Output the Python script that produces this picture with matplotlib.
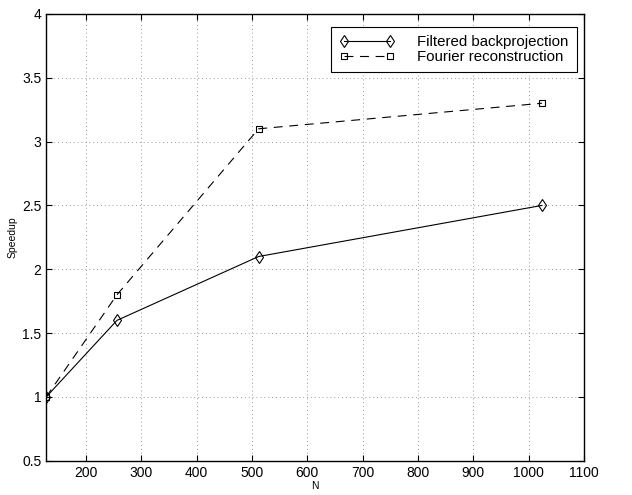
import matplotlib
matplotlib.use("Agg")
import matplotlib.pyplot as plt

plt.rcParams['font.family'] = ['Liberation Sans', 'DejaVu Sans']

N = [128, 256, 512, 1024]
fbp = [1.0, 1.6, 2.1, 2.5]
fourier = [1.0, 1.8, 3.1, 3.3]
xticks = [200, 300, 400, 500, 600, 700, 800, 900, 1000, 1100]
yticks = [0.5, 1, 1.5, 2, 2.5, 3, 3.5, 4]

fig = plt.figure(figsize=(6.32, 4.95), dpi=100)
ax = fig.add_axes([0.073, 0.069, 0.851, 0.903])

ax.plot(N, fbp, 'k-', marker='d', markersize=6.5, markerfacecolor='none',
        markeredgecolor='black', markeredgewidth=0.8, linewidth=0.8,
        label='Filtered backprojection')
ax.plot(N, fourier, 'k--', marker='s', markersize=5, markerfacecolor='none',
        markeredgecolor='black', markeredgewidth=0.8, linewidth=0.8, dashes=(8, 6),
        label='Fourier reconstruction')

ax.set_xlim(128, 1100)
ax.set_ylim(0.5, 4)
ax.set_xticks(xticks)
ax.set_yticks(yticks)
ax.set_yticklabels(['0.5', '1', '1.5', '2', '2.5', '3', '3.5', '4'])
ax.tick_params(direction='in', labelsize=10, length=4, top=True, right=True)
ax.grid(True, color='#999999', linewidth=0.7, dashes=(1, 3))
for s in ax.spines.values():
    s.set_linewidth(1.0)

ax.set_xlabel('N', fontsize=7.5, labelpad=1)
ax.set_ylabel('Speedup', fontsize=7.5, labelpad=3)

leg = ax.legend(loc='upper right', fontsize=10.8, numpoints=2, fancybox=False,
                framealpha=1, edgecolor='black', borderpad=0.55, handlelength=3.7,
                bbox_to_anchor=(0.987, 0.971), borderaxespad=0.0,
                labelspacing=0.05, handletextpad=1.5)
leg.get_frame().set_linewidth(0.8)

fig.savefig('out.png', dpi=100)
